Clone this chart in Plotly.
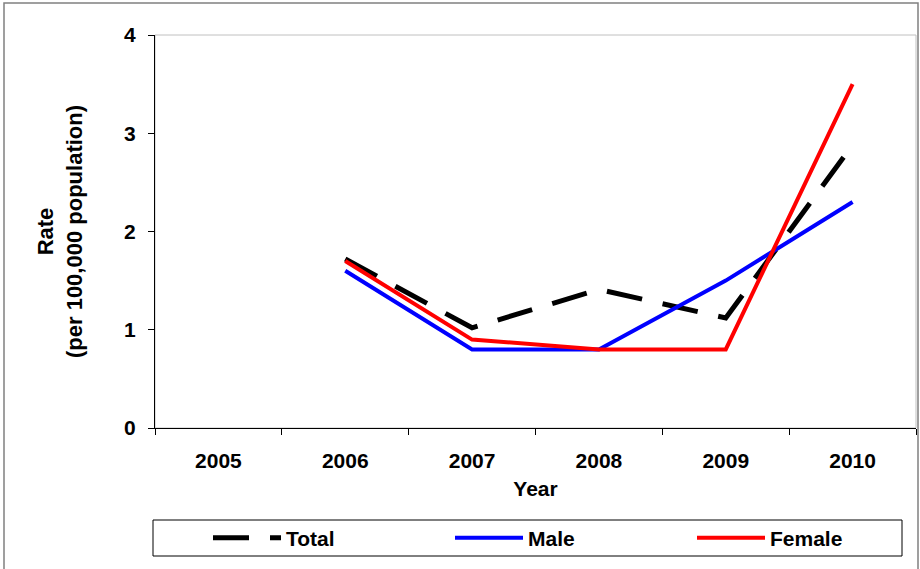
import plotly.graph_objects as go

years = ["2005", "2006", "2007", "2008", "2009", "2010"]
total = [None, 1.72, 1.02, 1.41, 1.12, 2.88]
male = [None, 1.6, 0.8, 0.8, 1.5, 2.3]
female = [None, 1.7, 0.9, 0.8, 0.8, 3.5]
y_ticks = [0, 1, 2, 3, 4]

FONT = "Liberation Sans, Arial, sans-serif"

fig = go.Figure()
fig.add_trace(go.Scatter(x=years, y=total, name="<b>Total</b>", mode="lines",
                         line=dict(color="black", width=5, dash="36px,21px")))
fig.add_trace(go.Scatter(x=years, y=male, name="<b>Male</b>", mode="lines",
                         line=dict(color="#0000ff", width=4)))
fig.add_trace(go.Scatter(x=years, y=female, name="<b>Female</b>", mode="lines",
                         line=dict(color="#ff0000", width=4)))

L, R, T, B = 155, 4, 35, 141
W, H = 920, 569
pw, ph = W - L - R, H - T - B

def px_x(p):
    return (p - L) / pw

def px_y(p):
    return (H - B - p) / ph

fig.update_layout(
    width=W, height=H,
    margin=dict(l=L, r=R, t=T, b=B, autoexpand=False),
    paper_bgcolor="white", plot_bgcolor="white",
    font=dict(family=FONT, color="black", size=21),
    showlegend=True,
    legend=dict(orientation="h", x=px_x(208), xanchor="left",
                y=px_y(538), yanchor="middle",
                borderwidth=0, bgcolor="rgba(0,0,0,0)",
                font=dict(size=21, family=FONT),
                itemwidth=68, entrywidth=159, entrywidthmode="pixels",
                traceorder="normal"),
    xaxis=dict(type="category", categoryorder="array", categoryarray=years,
               tickson="boundaries", ticks="outside", ticklen=6, tickcolor="black",
               showline=True, linecolor="black", linewidth=1,
               showgrid=False, zeroline=False, automargin=False,
               tickfont=dict(size=21, family=FONT),
               tickvals=years, ticktext=["<b>%s</b>" % y for y in years],
               ticklabelstandoff=14,
               range=[-0.5, 5.5],
               title=dict(text="<b>Year</b>", font=dict(size=21), standoff=10)),
    yaxis=dict(range=[0, 4], tickvals=y_ticks,
               ticktext=["<b>%d</b>" % v for v in y_ticks],
               ticks="outside", ticklen=6, tickcolor="black",
               showline=True, linecolor="black", linewidth=1,
               showgrid=False, zeroline=False, automargin=False,
               tickfont=dict(size=21, family=FONT),
               ticklabelstandoff=8,
               title=dict(text="<b>Rate<br>(per 100,000 population)</b>",
                          font=dict(size=22), standoff=35)),
    shapes=[
        dict(type="rect", xref="paper", yref="paper", x0=0, x1=1, y0=0, y1=1,
             line=dict(color="#c0c0c0", width=1), layer="below"),
        dict(type="rect", xref="paper", yref="paper",
             x0=px_x(4), x1=px_x(918), y0=px_y(575), y1=px_y(3),
             line=dict(color="#808080", width=1.5), layer="below"),
        dict(type="rect", xref="paper", yref="paper",
             x0=px_x(153), x1=px_x(902), y0=px_y(556), y1=px_y(520),
             line=dict(color="black", width=1), fillcolor="white", layer="below"),
    ],
)

fig.write_html(
    "out.html",
    config={"displayModeBar": False},
    post_script="document.body.style.margin='0';document.body.style.padding='0';"
                "document.documentElement.style.overflow='hidden';"
                "document.body.style.overflow='hidden';",
)
